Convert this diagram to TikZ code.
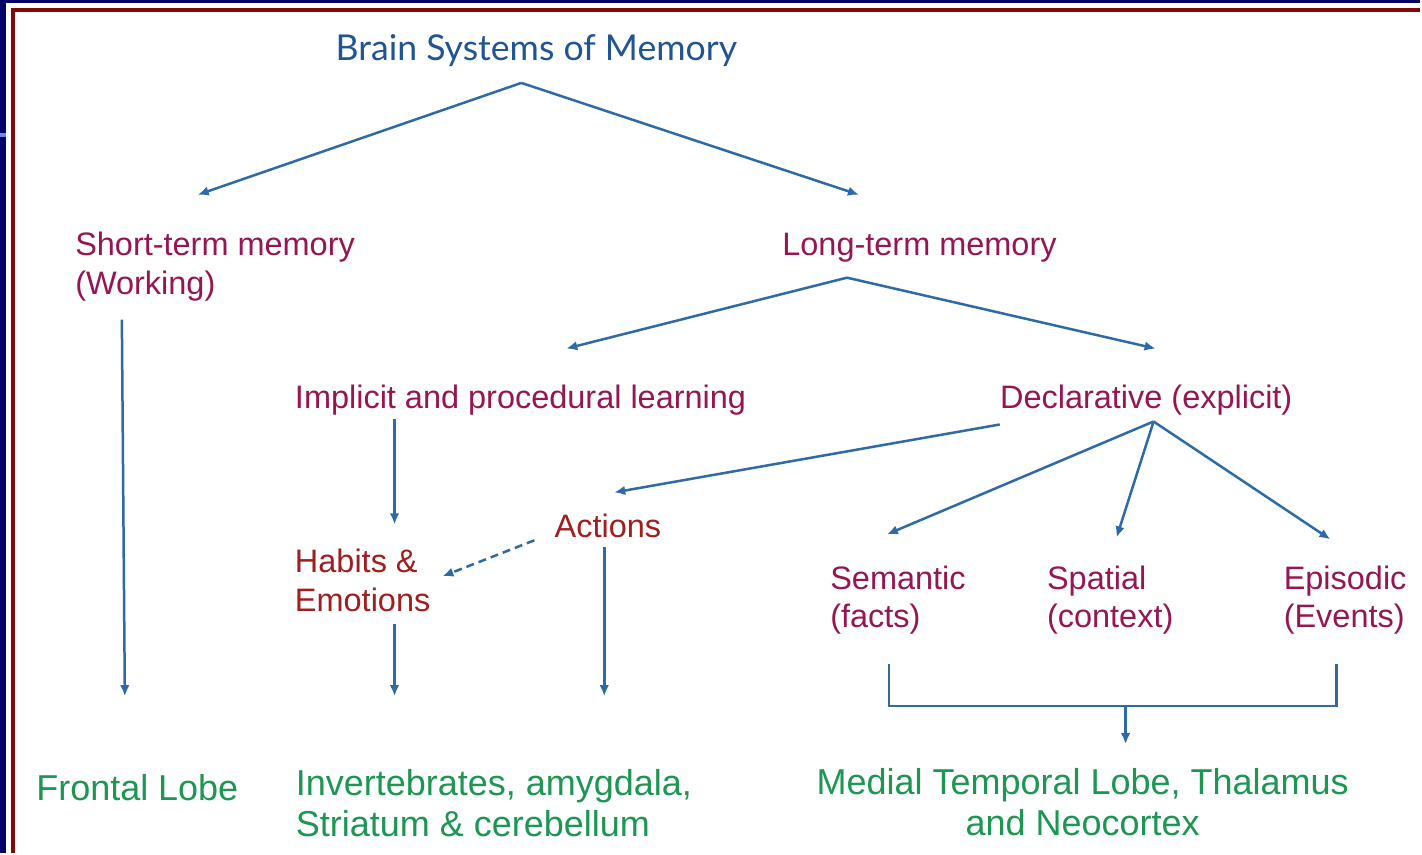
\documentclass[tikz,border=0pt]{standalone}
\usepackage{fontspec}
\setmainfont{Liberation Sans}
\newfontfamily\titlefont{Lato}
\usetikzlibrary{arrows.meta}
\definecolor{framenavy}{RGB}{0,0,102}
\definecolor{framered}{RGB}{128,8,12}
\definecolor{tickblue}{RGB}{110,140,230}
\definecolor{titleblue}{RGB}{32,84,146}
\definecolor{arrowblue}{RGB}{46,106,166}
\definecolor{kindred}{RGB}{150,22,82}
\definecolor{habitred}{RGB}{160,30,32}
\definecolor{areagreen}{RGB}{28,150,82}
\tikzset{
  memarrow/.style={draw=arrowblue, line width=0.05cm, -{Latex[length=2.2mm,width=1.9mm]}},
  memline/.style={draw=arrowblue, line width=0.05cm},
  titletext/.style={text=titleblue, font=\titlefont\fontsize{20.3}{24}\selectfont, inner sep=0pt},
  kind/.style={text=kindred, font=\fontsize{18.5}{21.8}\selectfont, align=left, anchor=west, inner sep=0pt},
  habit/.style={kind, text=habitred},
  area/.style={text=areagreen, font=\fontsize{20.5}{23.4}\selectfont, align=left, anchor=west, inner sep=0pt}
}

\begin{document}
\begin{tikzpicture}[x=0.02cm, y=-0.02cm]
	%%%%% frame %%%%%
	\fill[framenavy] (0,0) rectangle (1422,854);
	\fill[white] (6,3) rectangle (1422,854);
	\fill[tickblue] (0,133) rectangle (6,137);
	\draw[framered, line width=0.07cm] (13,854) -- (13,10) -- (1422,10);
	\useasboundingbox (0,0) rectangle (1422,854);

	%%%%% labels %%%%%
	\node[titletext] (title) at (537,51) {Brain Systems of Memory};
	\node[kind] (stm) at (75,267) {Short-term memory\\(Working)};
	\node[kind] (ltm) at (783,248) {Long-term memory};
	\node[kind] (impl) at (295,401) {Implicit and procedural learning};
	\node[kind] (decl) at (1001,401) {Declarative (explicit)};
	\node[habit] (act) at (555,527) {Actions};
	\node[habit] (hab) at (295,581) {Habits \&\\Emotions};
	\node[kind] (sem) at (831,601) {Semantic\\(facts)};
	\node[kind] (spa) at (1048,601) {Spatial\\(context)};
	\node[kind] (epi) at (1285,601) {Episodic\\(Events)};
	\node[area] (front) at (36,789) {Frontal Lobe};
	\node[area] (inv) at (296,804) {Invertebrates, amygdala,\\Striatum \& cerebellum};
	\node[area, align=center, anchor=center] (mtl) at (1084,803) {Medial Temporal Lobe, Thalamus\\and Neocortex};

	%%%%% joints and tips %%%%%
	\coordinate (top) at (522,83);
	\coordinate (stm in) at (198,195);
	\coordinate (ltm in) at (860,195);
	\coordinate (stm out) at (122,320);
	\coordinate (front in) at (125,697);
	\coordinate (ltm out) at (848,278);
	\coordinate (impl in) at (567,349);
	\coordinate (decl in) at (1157,349);
	\coordinate (impl out) at (395,420);
	\coordinate (hab in) at (395,525);
	\coordinate (decl left) at (1001,425);
	\coordinate (act in) at (615,493);
	\coordinate (decl out) at (1155,422);
	\coordinate (sem in) at (888,535);
	\coordinate (spa in) at (1118,538);
	\coordinate (epi in) at (1332,540);
	\coordinate (act out) at (535,541);
	\coordinate (hab side) at (443,577);
	\coordinate (act down) at (605,548);
	\coordinate (inv act) at (605,697);
	\coordinate (hab out) at (395,625);
	\coordinate (inv hab) at (395,697);
	\coordinate (sem foot) at (890,665);
	\coordinate (epi foot) at (1338,665);
	\coordinate (bar mid) at (1127,707);
	\coordinate (mtl in) at (1127,745);

	%%%%% connectors %%%%%
	\draw[memarrow] (top) -- (stm in);
	\draw[memarrow] (top) -- (ltm in);
	\draw[memarrow] (stm out) -- (front in);
	\draw[memarrow] (ltm out) -- (impl in);
	\draw[memarrow] (ltm out) -- (decl in);
	\draw[memarrow] (impl out) -- (hab in);
	\draw[memarrow] (decl left) -- (act in);
	\draw[memarrow] (decl out) -- (sem in);
	\draw[memarrow] (decl out) -- (spa in);
	\draw[memarrow] (decl out) -- (epi in);
	\draw[memarrow, dash pattern=on 1.6mm off 1mm] (act out) -- (hab side);
	\draw[memarrow] (act down) -- (inv act);
	\draw[memarrow] (hab out) -- (inv hab);
	\draw[memline] (sem foot) |- (bar mid) -| (epi foot);
	\draw[memarrow] (bar mid) -- (mtl in);
\end{tikzpicture}
\end{document}
